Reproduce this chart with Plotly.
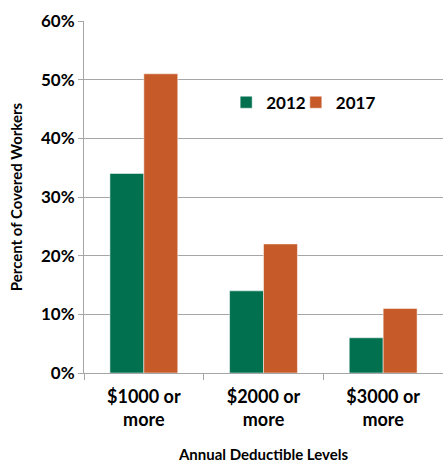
import plotly.graph_objects as go

categories = ["$1000 or<br>more", "$2000 or<br>more", "$3000 or<br>more"]
series_2012 = [34, 14, 6]
series_2017 = [51, 22, 11]
y_ticks = [0, 10, 20, 30, 40, 50, 60]
y_tick_labels = ["0%", "10%", "20%", "30%", "40%", "50%", "60%"]

GREEN = "#00704F"
ORANGE = "#C65A29"
GRID = "#A6A6A6"
FONT = "Lato"

fig = go.Figure()
fig.add_trace(go.Bar(name="2012", x=categories, y=series_2012, legend="legend",
                     marker=dict(color=GREEN, line=dict(color="white", width=0.5))))
fig.add_trace(go.Bar(name="2017", x=categories, y=series_2017, legend="legend2",
                     marker=dict(color=ORANGE, line=dict(color="white", width=0.5))))

legend_common = dict(orientation="h", y=0.768, xanchor="left", yanchor="middle",
                     font=dict(size=17, family=FONT, weight="bold"),
                     itemwidth=30, bgcolor="rgba(0,0,0,0)")

fig.update_layout(
    width=443, height=464,
    margin=dict(l=84, r=0, t=21, b=91),
    paper_bgcolor="white", plot_bgcolor="white",
    barmode="group", bargap=0.433, bargroupgap=0,
    font=dict(family=FONT, color="black"),
    showlegend=True,
    legend=dict(x=0.396, **legend_common),
    legend2=dict(x=0.590, **legend_common),
    xaxis=dict(
        showline=True, linecolor=GRID, linewidth=1,
        ticks="outside", tickson="boundaries", ticklen=6, tickcolor=GRID,
        tickfont=dict(size=18, family=FONT, weight="bold"),
        ticklabelstandoff=7,
        title=dict(text="Annual Deductible Levels", font=dict(size=15, family=FONT, weight="bold"), standoff=20),
    ),
    yaxis=dict(
        range=[0, 60], tickvals=y_ticks, ticktext=y_tick_labels,
        showgrid=True, gridcolor=GRID, gridwidth=1,
        showline=True, linecolor=GRID, linewidth=1,
        ticks="outside", ticklen=5, tickcolor=GRID,
        tickfont=dict(size=17, family=FONT, weight="bold"),
        zeroline=False,
        title=dict(text="Percent of Covered Workers", font=dict(size=15, family=FONT, weight="bold"), standoff=14),
    ),
)

fig.write_html("out.html")
